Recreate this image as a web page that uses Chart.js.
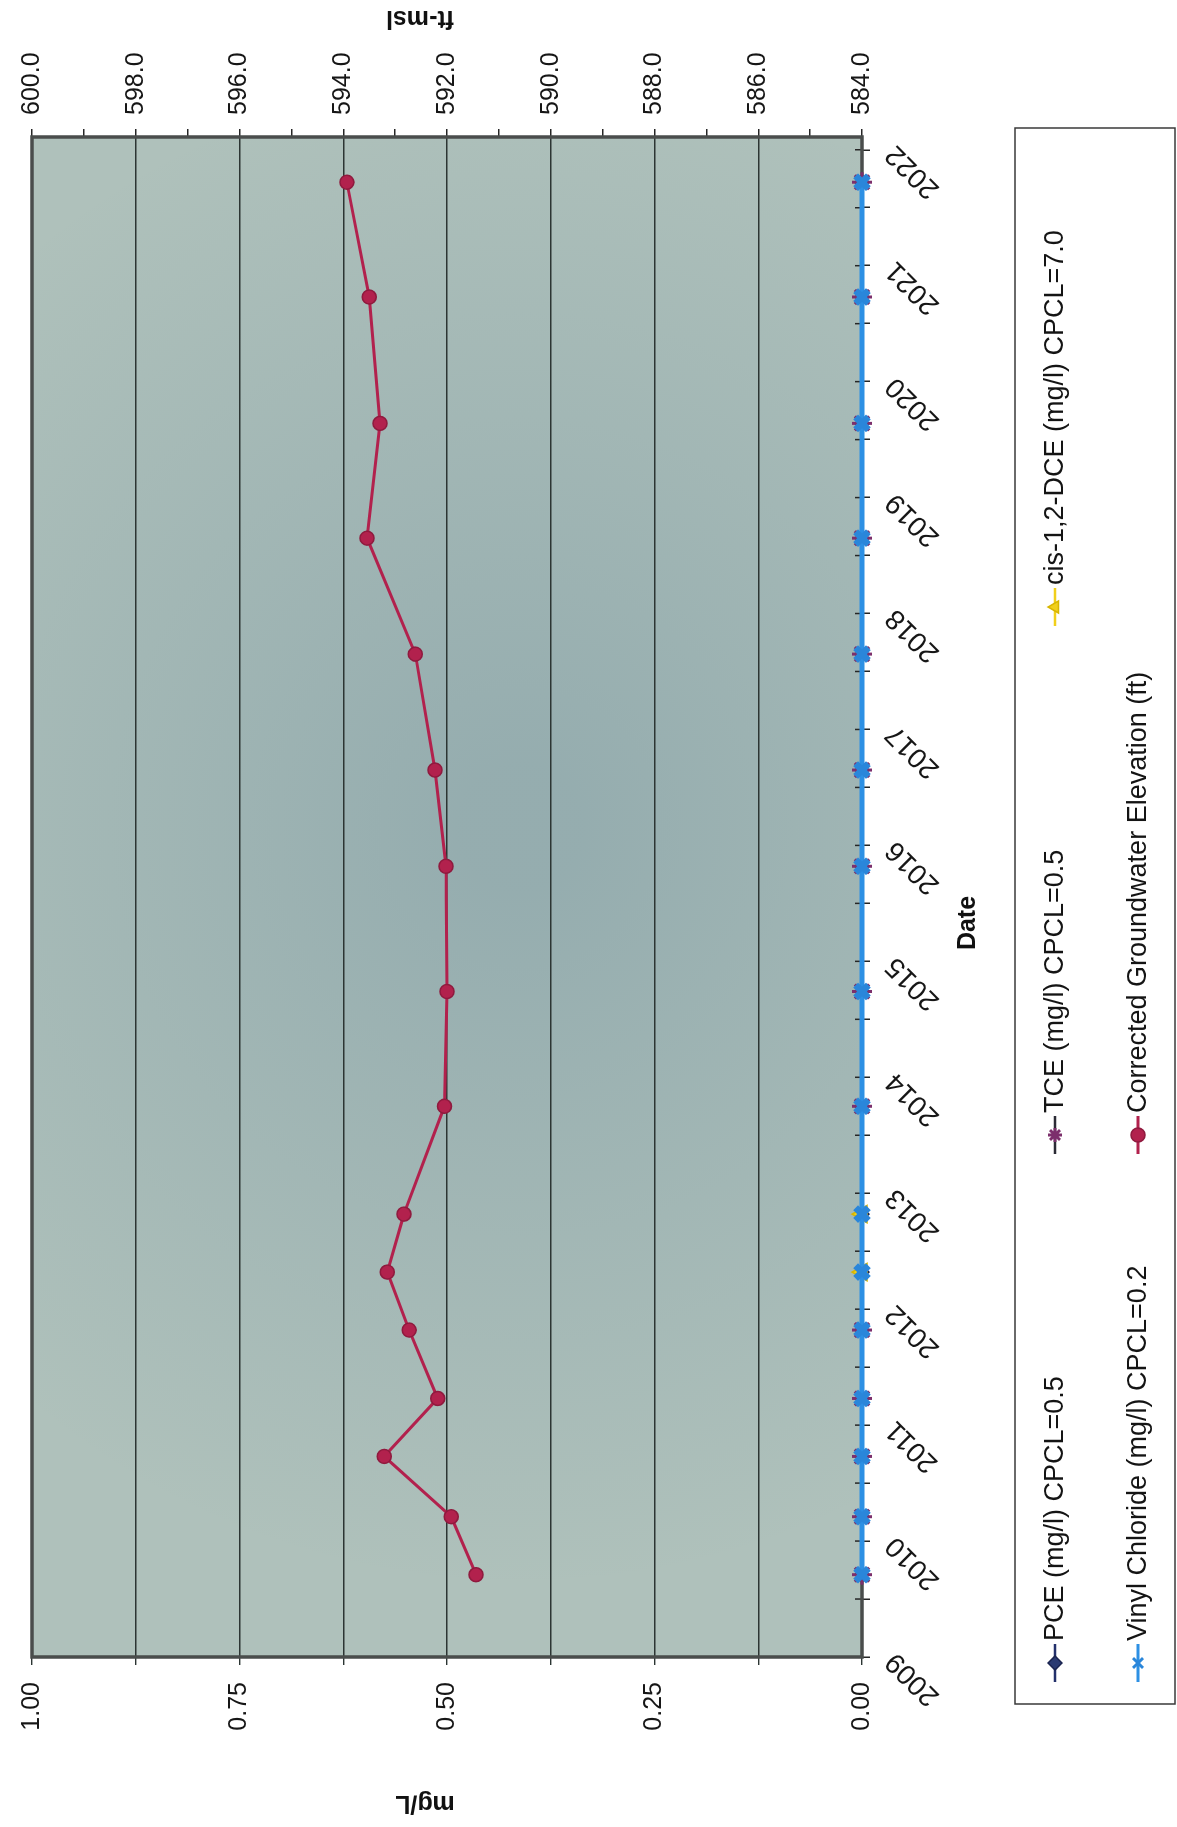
<!DOCTYPE html>
<html>
<head>
<meta charset="utf-8">
<title>Groundwater Elevation and VOC Concentrations</title>
<style>
  html, body { margin: 0; padding: 0; background: #fff; width: 1177px; height: 1827px; overflow: hidden; }
  /* The chart is laid out landscape and the page shows it turned a quarter turn counter-clockwise */
  #page { position: absolute; left: 0; top: 0; width: 1827px; height: 1177px;
          transform-origin: 0 0; transform: translate(0, 1827px) rotate(-90deg); background: #fff; }
  canvas { display: block; }
</style>
<script src="https://cdn.jsdelivr.net/npm/chart.js@4.4.1/dist/chart.umd.min.js"></script>
</head>
<body>
<div id="page"><canvas id="chart" width="1827" height="1177"></canvas></div>
<script>
// Sampling dates as decimal years
const sampleDates = [2009.71, 2010.21, 2010.73, 2011.23, 2011.82, 2012.32, 2012.82, 2013.75,
                     2014.74, 2015.82, 2016.65, 2017.65, 2018.65, 2019.64, 2020.73, 2021.72];

// Corrected groundwater elevation (ft-msl), right axis
const groundwaterElevFt = [591.44, 591.92, 593.21, 592.18, 592.73, 593.15, 592.83, 592.05,
                           592.00, 592.02, 592.23, 592.61, 593.54, 593.29, 593.50, 593.93];

// Concentrations (mg/L), left axis; null = not reported for that event
const pceMgL           = [0, 0, 0, 0, 0, 0, 0, 0, 0, 0, 0, 0, 0, 0, 0, 0];
const tceMgL           = [0, 0, 0, 0, 0, null, null, 0, 0, 0, 0, 0, 0, 0, 0, 0];
const cisDceMgL        = [null, null, null, null, null, 0, 0, null, null, null, null, null, null, null, null, null];
const vinylChlorideMgL = [0, 0, 0, 0, 0, 0, 0, 0, 0, 0, 0, 0, 0, 0, 0, 0];

const seriesNames = [
  'PCE (mg/l) CPCL=0.5',
  'TCE (mg/l) CPCL=0.5',
  'cis-1,2-DCE (mg/l) CPCL=7.0',
  'Vinyl Chloride (mg/l) CPCL=0.2',
  'Corrected Groundwater Elevation (ft)'
];

// Axis ranges and tick spacing
const dateRange = [2009, 2022.11];
const dateStep = 0.5;
const concRange = [0, 1];
const concStep = 0.125;
const elevRange = [584, 600];
const elevStep = 1;

const axisTitles = { date: 'Date', conc: 'mg/L', elev: 'ft-msl' };

const FONT = "'Liberation Sans', Arial, Helvetica, sans-serif";
Chart.defaults.font.family = FONT;
Chart.defaults.color = '#161616';

const pts = arr => sampleDates.map((d, i) => ({ x: d, y: arr[i] }));
const near = (v, m) => Math.abs(v / m - Math.round(v / m)) < 1e-6;

function drawTitle(ctx, text, x, y, angle) {
  ctx.save();
  ctx.font = 'bold 25px ' + FONT;
  ctx.fillStyle = '#111';
  ctx.textAlign = 'center';
  ctx.textBaseline = 'middle';
  ctx.translate(x, y);
  ctx.rotate(angle);
  ctx.fillText(text, 0, 0);
  ctx.restore();
}

// Plot background, frame, inward date ticks, axis titles and boxed legend
const decorations = {
  id: 'decorations',
  beforeDraw(chart) {
    const { ctx, chartArea: a } = chart;
    ctx.save();
    ctx.fillStyle = '#afc1bb';
    ctx.fillRect(a.left, a.top, a.width, a.height);
    const g = ctx.createRadialGradient(1000, 520, 60, 1000, 520, 760);
    g.addColorStop(0, 'rgba(75,115,140,0.26)');
    g.addColorStop(1, 'rgba(75,115,140,0)');
    ctx.fillStyle = g;
    ctx.fillRect(a.left, a.top, a.width, a.height);
    ctx.restore();
  },
  beforeDatasetsDraw(chart) {
    const { ctx, chartArea: a, scales } = chart;
    ctx.save();
    ctx.strokeStyle = '#262626';
    ctx.lineWidth = 1.5;
    scales.x.ticks.forEach(t => {
      const px = scales.x.getPixelForValue(t.value);
      ctx.beginPath();
      ctx.moveTo(px, a.bottom);
      ctx.lineTo(px, a.bottom - 7);
      ctx.stroke();
    });
    ctx.strokeStyle = '#4a4d4c';
    ctx.lineWidth = 3.5;
    ctx.strokeRect(a.left, a.top, a.width, a.height);
    ctx.restore();
  },
  afterDraw(chart) {
    const { ctx } = chart;
    drawTitle(ctx, axisTitles.elev, 1809, 420, -Math.PI / 2);
    drawTitle(ctx, axisTitles.conc, 24, 425, -Math.PI / 2);
    drawTitle(ctx, axisTitles.date, 904, 968, 0);

    // legend box
    ctx.save();
    ctx.strokeStyle = '#3a3a3a';
    ctx.lineWidth = 1.5;
    ctx.strokeRect(123, 1015, 1576, 160);
    const cols = [164, 692, 1220];
    const rows = [1055, 1138];
    const slots = [[0, 0], [1, 0], [2, 0], [0, 1], [1, 1]];
    chart.data.datasets.forEach((ds, i) => {
      const cx = cols[slots[i][0]], cy = rows[slots[i][1]];
      ctx.strokeStyle = ds.borderColor;
      ctx.lineWidth = Math.min(ds.borderWidth, 3);
      ctx.beginPath();
      ctx.moveTo(cx - 19, cy);
      ctx.lineTo(cx + 19, cy);
      ctx.stroke();
      ctx.fillStyle = ds.pointBackgroundColor || ds.borderColor;
      ctx.strokeStyle = ds.pointBorderColor || ds.borderColor;
      const bw = Math.min(ds.pointBorderWidth || 1, 3);
      ctx.lineWidth = bw;
      const r = Math.min(ds.pointRadius, 7);
      if (Chart.helpers && Chart.helpers.drawPoint) {
        Chart.helpers.drawPoint(ctx, { pointStyle: ds.pointStyle, rotation: 0, radius: r, borderWidth: bw }, cx, cy);
      } else {
        ctx.beginPath(); ctx.arc(cx, cy, r, 0, Math.PI * 2); ctx.fill(); ctx.stroke();
      }
      ctx.fillStyle = '#141414';
      ctx.font = '27px ' + FONT;
      ctx.textAlign = 'left';
      ctx.textBaseline = 'middle';
      ctx.fillText(ds.label, cx + 22, cy + 1);
    });
    ctx.restore();
  }
};

new Chart(document.getElementById('chart'), {
  type: 'line',
  data: {
    datasets: [
      { label: seriesNames[0], data: pts(pceMgL), yAxisID: 'y',
        borderColor: '#23306b', borderWidth: 2.5,
        pointStyle: 'rectRot', pointRadius: 7, pointBackgroundColor: '#2b3b72',
        pointBorderColor: '#1a2450', pointBorderWidth: 1.5, order: 3 },
      { label: seriesNames[1], data: pts(tceMgL), yAxisID: 'y', spanGaps: true,
        borderColor: '#2b2b35', borderWidth: 2.5,
        pointStyle: 'star', pointRadius: 10, pointBackgroundColor: '#7c2f6c',
        pointBorderColor: '#7c2f6c', pointBorderWidth: 3, order: 2 },
      { label: seriesNames[2], data: pts(cisDceMgL), yAxisID: 'y', spanGaps: true,
        borderColor: '#f1cf1b', borderWidth: 2.5,
        pointStyle: 'triangle', pointRadius: 10, pointBackgroundColor: '#f1cf1b',
        pointBorderColor: '#d8b600', pointBorderWidth: 1.5, order: 1 },
      { label: seriesNames[3], data: pts(vinylChlorideMgL), yAxisID: 'y',
        borderColor: '#2d90e4', borderWidth: 5,
        pointStyle: 'crossRot', pointRadius: 9, pointBackgroundColor: '#2d90e4',
        pointBorderColor: '#2a86da', pointBorderWidth: 7, order: 0 },
      { label: seriesNames[4], data: pts(groundwaterElevFt), yAxisID: 'y1',
        borderColor: '#b2214d', borderWidth: 3,
        pointStyle: 'circle', pointRadius: 7, pointBackgroundColor: '#b2214d',
        pointBorderColor: '#8f1a3e', pointBorderWidth: 1.5, order: 4 }
    ]
  },
  options: {
    responsive: false,
    animation: false,
    devicePixelRatio: 1,
    events: [],
    datasets: { line: { clip: false, tension: 0 } },
    layout: { padding: { left: 0, right: 0, top: 23, bottom: 187 } },
    plugins: { legend: { display: false }, tooltip: { enabled: false } },
    scales: {
      x: {
        type: 'linear', position: 'bottom',
        min: dateRange[0], max: dateRange[1],
        afterFit: s => { s.height = 128; },
        border: { display: false },
        grid: { drawOnChartArea: false, drawTicks: true, tickLength: 8, color: '#262626', lineWidth: 1.5 },
        ticks: {
          stepSize: dateStep, includeBounds: false, autoSkip: false,
          minRotation: 45, maxRotation: 45, padding: 9,
          font: { size: 28 }, color: '#161616',
          callback: v => near(v, 1) ? String(Math.round(v)) : ''
        },
        title: { display: false }
      },
      y: {
        type: 'linear', position: 'left',
        min: concRange[0], max: concRange[1],
        afterFit: s => { s.width = 170; },
        border: { display: false },
        grid: { drawOnChartArea: true, drawTicks: true, tickLength: 8, color: '#2c3533', lineWidth: 1.4 },
        ticks: {
          stepSize: concStep, autoSkip: false, padding: 17,
          font: { size: 25 }, color: '#161616',
          callback: v => near(v, 0.25) ? v.toFixed(2) : ''
        },
        title: { display: false }
      },
      y1: {
        type: 'linear', position: 'right',
        min: elevRange[0], max: elevRange[1],
        afterFit: s => { s.width = 137; },
        border: { display: false },
        grid: { drawOnChartArea: false, drawTicks: true, tickLength: 8, color: '#262626', lineWidth: 1.5 },
        ticks: {
          stepSize: elevStep, autoSkip: false, padding: 14,
          font: { size: 25 }, color: '#161616',
          callback: v => near(v, 2) ? v.toFixed(1) : ''
        }
      }
    }
  },
  plugins: [decorations]
});
</script>
</body>
</html>
